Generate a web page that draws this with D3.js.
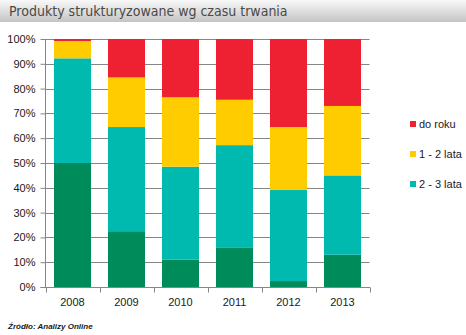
<!DOCTYPE html>
<html>
<head>
<meta charset="utf-8">
<script src="https://cdn.jsdelivr.net/npm/d3@7"></script>
<style>
  html, body { margin: 0; padding: 0; background: #fff; }
  svg { display: block; }
</style>
</head>
<body>
<svg id="chart" width="466" height="335"></svg>
<script>
// Years on the category axis
const years = ["2008", "2009", "2010", "2011", "2012", "2013"];

// Share of each maturity bucket (percent), bottom to top
const powyzej3 = [50, 22.5, 11, 16, 2.4, 13];
const lata2_3  = [42.2, 42, 37.5, 41.2, 36.7, 32];
const lata1_2  = [7, 20, 28, 18.3, 25.4, 28];
const doRoku   = [0.8, 15.5, 23.5, 24.5, 35.5, 27];

// Y axis tick values
const yTicks = [0, 10, 20, 30, 40, 50, 60, 70, 80, 90, 100];

const seriesKeys = ["powyzej3", "lata2_3", "lata1_2", "doRoku"];
const seriesColors = {
  powyzej3: "#008c5a",
  lata2_3: "#00bab0",
  lata1_2: "#ffcc00",
  doRoku: "#ed2131"
};
const legendItems = [
  { key: "doRoku", label: "do roku" },
  { key: "lata1_2", label: "1 - 2 lata" },
  { key: "lata2_3", label: "2 - 3 lata" }
];

const rows = years.map((yr, i) => ({
  year: yr,
  powyzej3: powyzej3[i],
  lata2_3: lata2_3[i],
  lata1_2: lata1_2[i],
  doRoku: doRoku[i]
}));

const svg = d3.select("#chart");
const font = "'Liberation Sans', Arial, sans-serif";

// Header band with vertical grey gradient
const defs = svg.append("defs");
const grad = defs.append("linearGradient")
  .attr("id", "hdr").attr("x1", 0).attr("y1", 0).attr("x2", 0).attr("y2", 1);
grad.append("stop").attr("offset", "0%").attr("stop-color", "#f9f9f9");
grad.append("stop").attr("offset", "100%").attr("stop-color", "#c4c4c4");
svg.append("rect").attr("x", 0).attr("y", 0).attr("width", 466).attr("height", 22)
  .attr("fill", "url(#hdr)");
svg.append("text")
  .attr("x", 9).attr("y", 16)
  .attr("font-family", "'DejaVu Sans Condensed', 'DejaVu Sans', sans-serif")
  .attr("font-size", 14)
  .attr("fill", "#4a4a4a")
  .text("Produkty strukturyzowane wg czasu trwania");

// Plot area
const plotLeft = 45.5, plotRight = 369.5, plotTop = 39, plotBottom = 287;

const x = d3.scaleBand().domain(years).range([plotLeft, plotRight])
  .paddingInner(0.315).paddingOuter(0.1575);
const y = d3.scaleLinear().domain([0, 100]).range([plotBottom, plotTop]);

// Horizontal gridlines
svg.append("g").selectAll("line").data(yTicks.filter(t => t > 0)).join("line")
  .attr("x1", plotLeft).attr("x2", plotRight)
  .attr("y1", d => Math.round(y(d)) + 0.5).attr("y2", d => Math.round(y(d)) + 0.5)
  .attr("stroke", "#868686").attr("stroke-width", 1);

// Stacked bars
const stack = d3.stack().keys(seriesKeys);
const layers = stack(rows);
svg.append("g").selectAll("g").data(layers).join("g")
  .attr("fill", d => seriesColors[d.key])
  .selectAll("rect").data(d => d).join("rect")
  .attr("x", d => x(d.data.year))
  .attr("width", x.bandwidth())
  .attr("y", d => y(d[1]))
  .attr("height", d => y(d[0]) - y(d[1]));

// Y axis
const yAxis = d3.axisLeft(y).tickValues(yTicks).tickFormat(d => d + "%")
  .tickSize(5).tickPadding(5);
const gy = svg.append("g").attr("transform", `translate(${plotLeft},0)`).call(yAxis);
gy.select(".domain").attr("stroke", "#868686").attr("d", `M-0,${plotTop}V${plotBottom}`);
gy.selectAll(".tick line").attr("stroke", "#868686");
gy.selectAll(".tick text")
  .attr("font-family", font).attr("font-size", 11).attr("fill", "#1a1a1a");

// X axis with ticks between categories
const gx = svg.append("g").attr("transform", `translate(0,${plotBottom + 0.5})`);
gx.append("line").attr("x1", plotLeft - 5).attr("x2", plotRight + 0.5)
  .attr("stroke", "#868686");
const step = x.step();
const boundaries = d3.range(years.length + 1).map(i => plotLeft + i * step);
gx.selectAll("line.tk").data(boundaries).join("line").attr("class", "tk")
  .attr("x1", d => Math.round(d) + 0.5).attr("x2", d => Math.round(d) + 0.5)
  .attr("y1", 0).attr("y2", 5).attr("stroke", "#868686");
gx.selectAll("text").data(years).join("text")
  .attr("x", d => x(d) + x.bandwidth() / 2)
  .attr("y", 18)
  .attr("text-anchor", "middle")
  .attr("font-family", font).attr("font-size", 11).attr("fill", "#1a1a1a")
  .text(d => d);

// Legend
const lg = svg.append("g");
legendItems.forEach((it, i) => {
  const cy = 124 + i * 30;
  lg.append("rect").attr("x", 410).attr("y", cy - 3).attr("width", 6).attr("height", 6)
    .attr("fill", seriesColors[it.key]);
  lg.append("text").attr("x", 419).attr("y", cy + 4)
    .attr("font-family", font).attr("font-size", 11).attr("fill", "#1a1a1a")
    .text(it.label);
});

// Source note
svg.append("text").attr("x", 8).attr("y", 329)
  .attr("font-family", "'Liberation Sans', Arial, sans-serif")
  .attr("font-size", 8).attr("font-style", "italic").attr("font-weight", "bold")
  .attr("fill", "#1a1a1a")
  .text("Źródło: Analizy Online");
</script>
</body>
</html>
